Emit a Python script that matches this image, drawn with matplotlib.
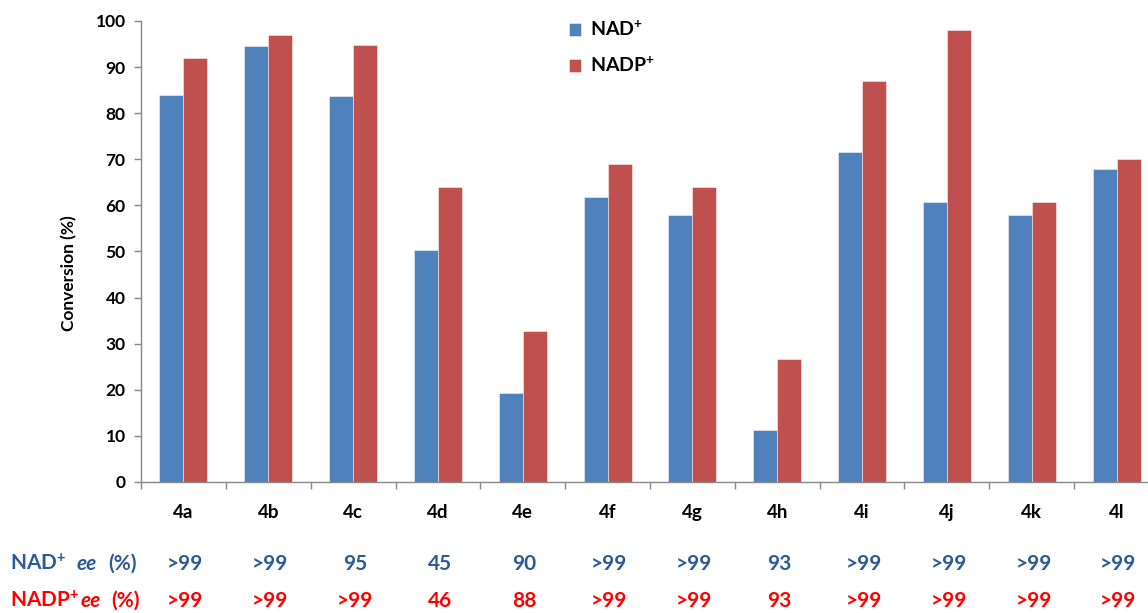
import numpy as np
import matplotlib
matplotlib.use("Agg")
import matplotlib.pyplot as plt
from matplotlib.transforms import blended_transform_factory

plt.rcParams['font.family'] = ['Lato', 'DejaVu Sans']
plt.rcParams['mathtext.fontset'] = 'custom'
plt.rcParams['mathtext.rm'] = 'Lato'
plt.rcParams['mathtext.bf'] = 'Lato:bold'
plt.rcParams['mathtext.it'] = 'Lato:italic'

# Substrates and conversions (%) with each cofactor
substrates = ['4a', '4b', '4c', '4d', '4e', '4f', '4g', '4h', '4i', '4j', '4k', '4l']
conv_nad = [84.0, 94.5, 83.7, 50.4, 19.2, 61.8, 57.9, 11.2, 71.5, 60.7, 57.9, 67.9]
conv_nadp = [91.9, 97.0, 94.8, 63.9, 32.8, 68.9, 63.9, 26.7, 86.9, 98.0, 60.7, 70.1]

# Enantiomeric excess (%) for each substrate
ee_nad = ['>99', '>99', '95', '45', '90', '>99', '>99', '93', '>99', '>99', '>99', '>99']
ee_nadp = ['>99', '>99', '>99', '46', '88', '>99', '>99', '93', '>99', '>99', '>99', '>99']

W, H = 1148, 613
fig = plt.figure(figsize=(W / 100, H / 100), dpi=100)


def fx(px):
    return px / W


def fy(py):
    return 1 - py / H


ax = fig.add_axes([fx(141), fy(482), fx(1159) - fx(141), fy(21) - fy(482)])

x = np.arange(len(substrates))
w = 0.283
blue = '#4F81BD'
red = '#C0504D'
ax.bar(x - w / 2, conv_nad, w, color=blue, edgecolor=(1, 1, 1, 0.55), linewidth=0.6,
       label=r'NAD$^{\mathbf{+}}$', zorder=2)
ax.bar(x + w / 2, conv_nadp, w, color=red, edgecolor=(1, 1, 1, 0.55), linewidth=0.6,
       label=r'NADP$^{\mathbf{+}}$', zorder=2)

ax.set_xlim(-0.5, len(substrates) - 0.5)
ax.set_ylim(0, 100)
ax.set_yticks(np.arange(0, 101, 10))

grey = '#898989'
for s in ['top', 'right']:
    ax.spines[s].set_visible(False)
for s in ['left', 'bottom']:
    ax.spines[s].set_color(grey)
    ax.spines[s].set_linewidth(1.0)

ax.tick_params(axis='y', direction='out', length=5, width=1, color=grey, pad=6,
               labelsize=12.5)
for lab in ax.get_yticklabels():
    lab.set_fontweight('bold')

ax.set_xticks(x)
ax.set_xticklabels(substrates, fontsize=13.5, fontweight='bold')
ax.tick_params(axis='x', which='major', length=0, pad=16)
ax.set_xticks(np.arange(-0.5, len(substrates) - 0.5, 1.0), minor=True)
ax.tick_params(axis='x', which='minor', direction='out', length=5, width=1, color=grey)

ax.set_ylabel('Conversion (%)', fontsize=12.5, fontweight='bold')
ax.yaxis.set_label_coords((77 - 141) / (1159 - 141), (482 - 273) / 461)

leg = ax.legend(loc='upper left', bbox_to_anchor=(fx(569), fy(20)),
                bbox_transform=fig.transFigure, frameon=False,
                prop={'weight': 'bold', 'size': 14},
                handlelength=0.62, handleheight=0.62, handletextpad=0.45,
                labelspacing=0.85, borderpad=0, borderaxespad=0)

# Enantiomeric excess rows beneath the axis
ee_blue = '#2C5B97'
ee_red = '#FF0000'
row_fs = 15
trans = blended_transform_factory(ax.transData, fig.transFigure)
for i in range(len(substrates)):
    ax.text(x[i] + 0.02, fy(570), ee_nad[i], transform=trans, ha='center', va='baseline',
            fontsize=row_fs, fontweight='bold', color=ee_blue, clip_on=False)
    ax.text(x[i] + 0.02, fy(607), ee_nadp[i], transform=trans, ha='center', va='baseline',
            fontsize=row_fs, fontweight='bold', color=ee_red, clip_on=False)

fig.text(fx(10), fy(570), r'NAD$^{\mathbf{+}}$', fontsize=row_fs, fontweight='bold',
         color=ee_blue, va='baseline', ha='left')
fig.text(fx(77), fy(570), 'ee', fontsize=row_fs, fontweight='bold', fontstyle='italic',
         color=ee_blue, va='baseline', ha='left')
fig.text(fx(108), fy(570), '(%)', fontsize=row_fs, fontweight='bold',
         color=ee_blue, va='baseline', ha='left')

fig.text(fx(10), fy(607), r'NADP$^{\mathbf{+}}$', fontsize=row_fs, fontweight='bold',
         color=ee_red, va='baseline', ha='left')
fig.text(fx(81), fy(607), 'ee', fontsize=row_fs, fontweight='bold', fontstyle='italic',
         color=ee_red, va='baseline', ha='left')
fig.text(fx(111), fy(607), '(%)', fontsize=row_fs, fontweight='bold',
         color=ee_red, va='baseline', ha='left')

fig.savefig('out.png', dpi=100)
